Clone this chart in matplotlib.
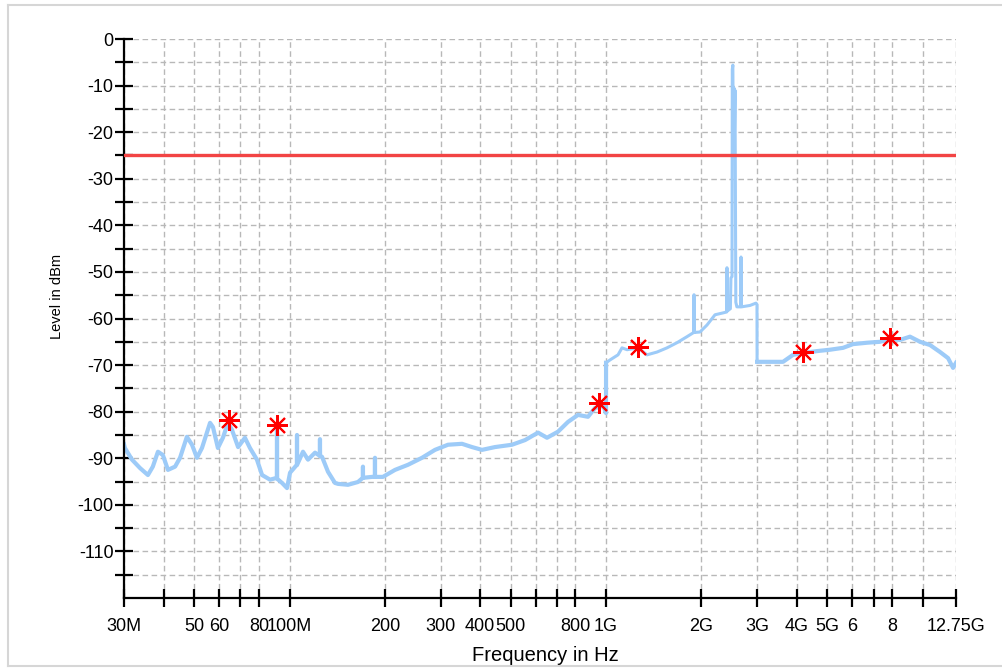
import matplotlib
matplotlib.use("Agg")
import matplotlib.pyplot as plt
from matplotlib.lines import Line2D
from matplotlib.ticker import NullLocator

# ---- data ----
freq_mhz = [30.0, 30.2, 31.8, 33.7, 35.7, 37.0, 38.4, 39.8, 41.3, 43.5, 45.1, 47.4, 49.2,
            51.0, 52.9, 56.1, 57.3, 59.4, 61.6, 63.9, 65.8, 68.8, 72.3, 75.0, 78.9, 81.9,
            86.8, 91.2, 91.3, 91.4, 94.7, 98.2, 100.4, 105.5, 105.6, 105.7, 110.3, 114.4,
            120.4, 124.7, 124.8, 124.9, 126.7, 132.3, 139.2, 142.3, 153.0, 164.5, 170.5,
            170.6, 170.7, 182.2, 186.1, 186.2, 186.3, 197.3, 215.4, 236.8, 262.2, 288.1,
            316.7, 350.7, 377.1, 405.6, 445.8, 504.5, 554.7, 609.8, 650.8, 704.9, 758.2,
            815.4, 877.0, 922.8, 956.9, 978.0, 999.7, 1000.0, 1029, 1091, 1123, 1165, 1262,
            1347, 1449, 1558, 1675, 1802, 1882, 1895, 1896, 1898, 1980, 2084, 2209, 2341,
            2405, 2410, 2415, 2470, 2480, 2500, 2505, 2515, 2525, 2535, 2545, 2555, 2570,
            2590, 2660, 2669, 2678, 2849, 2976, 2998, 3000, 3296, 3623, 3896, 4190, 4639,
            5099, 5605, 6029, 6674, 7334, 7889, 8485, 9124, 9812, 10557, 11354, 12034,
            12479, 12750]
level_dbm = [-87.0, -87.8, -90.3, -92.1, -93.6, -91.8, -88.6, -89.3, -92.5, -91.8, -89.9,
             -85.4, -87.1, -89.9, -87.8, -82.4, -83.3, -87.8, -85.6, -82.4, -83.9, -87.6,
             -85.6, -87.8, -90.3, -93.6, -94.6, -94.2, -83.0, -94.4, -95.3, -96.4, -93.1,
             -91.4, -85.0, -91.4, -88.6, -90.3, -88.8, -89.5, -85.9, -89.5, -89.7, -92.9,
             -95.3, -95.5, -95.7, -95.1, -94.2, -91.8, -94.2, -94.0, -94.0, -89.9, -94.0,
             -94.0, -92.5, -91.4, -89.9, -88.2, -87.1, -86.9, -87.6, -88.2, -87.6, -87.1,
             -86.1, -84.5, -85.6, -84.3, -82.2, -80.7, -81.1, -79.2, -79.0, -78.5, -80.3,
             -69.5, -68.9, -67.8, -66.3, -66.7, -66.3, -67.8, -67.2, -66.3, -65.2, -63.9,
             -63.1, -63.0, -54.9, -63.0, -62.9, -61.4, -59.2, -58.8, -58.6, -49.1, -58.4,
             -57.9, -51.3, -51.0, -6.5, -5.6, -25.0, -10.5, -19.5, -11.0, -56.5, -57.5,
             -57.5, -46.8, -57.5, -57.2, -56.7, -57.0, -69.3, -69.3, -69.3, -67.8, -67.4,
             -67.0, -66.7, -66.3, -65.5, -65.2, -65.0, -64.4, -64.6, -63.9, -65.0, -65.7,
             -67.2, -68.5, -70.6, -69.5]

peak_freq_mhz = [64.4, 91.1, 952, 1259, 4197, 7889]
peak_level_dbm = [-81.8, -82.8, -78.2, -66.2, -67.1, -64.2]

limit_dbm = -25

xtick_mhz = [30, 40, 50, 60, 70, 80, 100, 200, 300, 400, 500, 600, 700, 800, 1000,
             2000, 3000, 4000, 5000, 6000, 7000, 8000, 10000, 12750]
xtick_labels = ['30M', '', '50', '60', '', '80', '100M', '200', '300', '400', '500', '',
                '', '800', '1G', '2G', '3G', '4G', '5G', '6', '', '8', '', '12.75G']
ytick_values = list(range(0, -120, -5))
ytick_labels = [str(v) if v % 10 == 0 else '' for v in ytick_values]

# ---- figure ----
plt.rcParams['font.family'] = ['Liberation Sans', 'DejaVu Sans']
W, H = 1003, 668
fig = plt.figure(figsize=(W / 100, H / 100), dpi=100)
fig.patch.set_facecolor('white')
ax = fig.add_axes([124 / W, 1 - 598 / H, 832 / W, 559 / H])

ax.set_xscale('log')
ax.set_xlim(30, 12750)
ax.set_ylim(-120, 0)

trace_color = '#9dcbf8'
# noisy bands (below 1 GHz and above 3 GHz) look thicker than the 1-3 GHz part
i1 = freq_mhz.index(1000.0)
i3 = freq_mhz.index(3000)
ax.plot(freq_mhz[:i1 + 1], level_dbm[:i1 + 1], color=trace_color, lw=3.0, zorder=2)
ax.plot(freq_mhz[i1:i3 + 1], level_dbm[i1:i3 + 1], color=trace_color, lw=2.2, zorder=2)
ax.plot(freq_mhz[i3:], level_dbm[i3:], color=trace_color, lw=3.0, zorder=2)

ax.axhline(limit_dbm, color='#f24444', lw=2.4, zorder=3)
ax.plot(peak_freq_mhz, peak_level_dbm, ls='none', marker=(8, 2, 0), ms=15,
        mec='#ff0000', mew=1.5, zorder=4)

ax.set_xticks(xtick_mhz)
ax.set_xticklabels(xtick_labels)
ax.xaxis.set_minor_locator(NullLocator())
ax.set_yticks(ytick_values)
ax.set_yticklabels(ytick_labels)

ax.grid(True, color='#b8b8b8', linestyle=(0, (4, 2.5)), linewidth=1.0, zorder=1)
ax.set_axisbelow(True)

for s in ('top', 'right'):
    ax.spines[s].set_visible(False)
for s in ('left', 'bottom'):
    ax.spines[s].set_linewidth(1.6)
    ax.spines[s].set_color('black')

ax.tick_params(axis='both', direction='inout', length=13, width=1.6, labelsize=13,
               colors='black')
ax.tick_params(axis='x', pad=8)
ax.tick_params(axis='y', pad=1)

ax.set_xlabel('Frequency in Hz', fontsize=14.5)
ax.xaxis.set_label_coords(0.507, -0.086)
ax.set_ylabel('Level in dBm', fontsize=10.5)
ax.yaxis.set_label_coords(-0.072, 0.54)

# light frame around the picture
bc = '#d6d6d6'
fig.add_artist(Line2D([8 / W, 8 / W], [1 - 5 / H, 1 - 666 / H], transform=fig.transFigure,
                      color=bc, lw=1.5))
fig.add_artist(Line2D([8 / W, 1.0], [1 - 5 / H, 1 - 5 / H], transform=fig.transFigure,
                      color=bc, lw=1.5))
fig.add_artist(Line2D([8 / W, 1.0], [1 - 666 / H, 1 - 666 / H], transform=fig.transFigure,
                      color=bc, lw=1.5))

fig.savefig('out.png', dpi=100, facecolor='white')
